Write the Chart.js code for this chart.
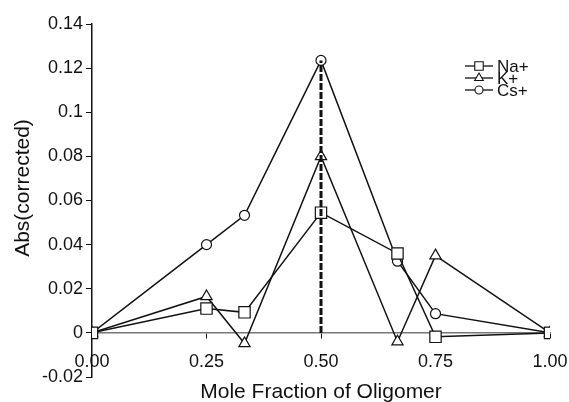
<!DOCTYPE html>
<html>
<head>
<meta charset="utf-8">
<script src="https://cdn.jsdelivr.net/npm/chart.js@4.4.0/dist/chart.umd.min.js"></script>
<style>
  html, body { margin: 0; padding: 0; background: #fff; }
</style>
</head>
<body>
<canvas id="jobChart" width="569" height="402"></canvas>
<script>
// mole fraction positions and absorbance per cation
const moleFraction = [0, 0.25, 0.333, 0.5, 0.667, 0.75, 1];
const naValues = [0, 0.011, 0.0093, 0.0545, 0.036, -0.0018, 0];
const kValues = [0, 0.0165, -0.0048, 0.080, -0.004, 0.035, 0];
const csValues = [0, 0.040, 0.0533, 0.1235, 0.0325, 0.0087, 0];
const seriesNames = ['Na+', 'K+', 'Cs+'];
const pointStyles = ['rect', 'triangle', 'circle'];
const peakX = [0.5, 0.5];
const peakY = [0, 0.1235];
const xTitle = 'Mole Fraction of Oligomer';
const yTitle = 'Abs(corrected)';

const FONT = "'Liberation Sans', Arial, Helvetica, sans-serif";

function toPoints(xs, ys) {
    return xs.map((x, i) => ({ x: x, y: ys[i] }));
}

const radii = { rect: 8, triangle: 6.5, circle: 5 };

function series(label, values, style, order) {
    return {
        label: label,
        data: toPoints(moleFraction, values),
        showLine: true,
        borderColor: '#111',
        borderWidth: 1.5,
        pointStyle: style,
        pointRadius: radii[style],
        pointBackgroundColor: '#fff',
        pointBorderColor: '#111',
        pointBorderWidth: 1.2,
        order: order
    };
}

// titles and legend drawn by hand so they sit where the original has them
const extras = {
    id: 'extras',
    afterDraw(chart) {
        const ctx = chart.ctx;
        ctx.save();
        ctx.fillStyle = '#111';
        ctx.font = '21px ' + FONT;
        ctx.textAlign = 'center';
        ctx.textBaseline = 'alphabetic';
        const area = chart.chartArea;
        ctx.fillText(xTitle, (area.left + area.right) / 2, 398);

        ctx.save();
        ctx.translate(23, 188);
        ctx.rotate(-Math.PI / 2);
        ctx.textBaseline = 'middle';
        ctx.fillText(yTitle, 0, 0);
        ctx.restore();

        ctx.font = '17px ' + FONT;
        ctx.textAlign = 'left';
        ctx.textBaseline = 'middle';
        seriesNames.forEach((name, i) => {
            const y = 66 + i * 12;
            ctx.strokeStyle = '#111';
            ctx.lineWidth = 1.3;
            ctx.beginPath();
            ctx.moveTo(465, y);
            ctx.lineTo(493, y);
            ctx.stroke();
            ctx.fillStyle = '#fff';
            ctx.strokeStyle = '#111';
            ctx.lineWidth = 1.1;
            const st = pointStyles[i];
            Chart.helpers.drawPoint(ctx, {
                pointStyle: st,
                radius: st === 'rect' ? 6 : (st === 'triangle' ? 5 : 4),
                rotation: 0,
                borderWidth: 1.1
            }, 479, y);
            ctx.fillStyle = '#111';
            ctx.fillText(name, 497, y + 1);
        });
        ctx.restore();
    }
};

const ctx = document.getElementById('jobChart').getContext('2d');
const jobChart = new Chart(ctx, {
    type: 'scatter',
    data: {
        datasets: [
            {
                label: 'peak',
                data: toPoints(peakX, peakY),
                showLine: true,
                borderColor: '#111',
                borderWidth: 3,
                borderDash: [7, 2],
                pointRadius: 0,
                order: 0
            },
            series(seriesNames[0], naValues, pointStyles[0], 1),
            series(seriesNames[1], kValues, pointStyles[1], 2),
            series(seriesNames[2], csValues, pointStyles[2], 3)
        ]
    },
    options: {
        responsive: false,
        animation: false,
        devicePixelRatio: 1,
        layout: { padding: { left: 0, right: 19, top: 24, bottom: 25 } },
        plugins: {
            legend: { display: false },
            tooltip: { enabled: false }
        },
        scales: {
            x: {
                type: 'linear',
                position: { y: 0 },
                min: 0,
                max: 1,
                afterFit: s => { s.paddingLeft = 0; s.paddingRight = 0; },
                ticks: {
                    stepSize: 0.25,
                    color: '#111',
                    font: { family: FONT, size: 18 },
                    padding: 13,
                    callback: v => v.toFixed(2)
                },
                grid: { drawOnChartArea: false, tickLength: 5, color: '#111', lineWidth: 1 },
                border: { color: '#777', width: 1.5 }
            },
            y: {
                type: 'linear',
                min: -0.02,
                max: 0.14,
                afterFit: s => { s.width = 92; },
                ticks: {
                    stepSize: 0.02,
                    color: '#111',
                    font: { family: FONT, size: 18 },
                    padding: 3,
                    callback: v => String(parseFloat(v.toFixed(2)))
                },
                grid: { drawOnChartArea: false, tickLength: 6, color: '#111', lineWidth: 1 },
                border: { color: '#111', width: 1.5 }
            }
        }
    },
    plugins: [extras]
});
</script>
</body>
</html>
